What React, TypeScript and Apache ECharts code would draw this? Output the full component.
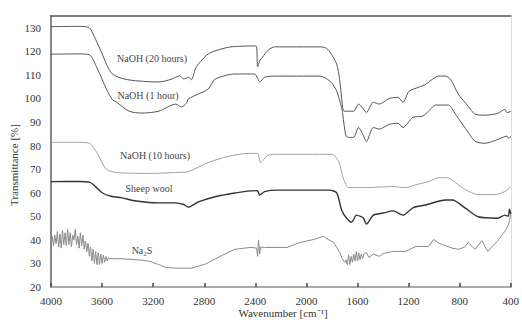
import React, { useEffect, useRef } from "react";
import * as echarts from "echarts";

const xTicks = [4000, 3600, 3200, 2800, 2400, 2000, 1600, 1200, 800, 400];
const yTicks = [20, 30, 40, 50, 60, 70, 80, 90, 100, 110, 120, 130];

const seriesNames = ["NaOH (20 hours)", "NaOH (1 hour)", "NaOH (10 hours)", "Sheep wool", "Na₂S"];

const naoh20Wn = [4000, 3780, 3700, 3650, 3600, 3566, 3520, 3430, 3311, 3156, 3055, 2995, 2960, 2924, 2900, 2870, 2846, 2769, 2680, 2591, 2405, 2390, 2382, 2366, 2343, 2300, 2250, 1894, 1850, 1817, 1763, 1740, 1724, 1712, 1700, 1631, 1592, 1560, 1530, 1476, 1430, 1352, 1283, 1244, 1197, 1120, 1066, 1012, 965, 911, 872, 810, 733, 679, 601, 501, 446, 430, 400];
const naoh20T = [130.5, 130.6, 130, 125, 119, 114.6, 110.4, 108.3, 107.4, 107, 108.2, 109.6, 108.3, 109, 108, 112.5, 114.6, 118.9, 120.8, 121.9, 122.3, 122, 113.4, 116, 117.6, 120.5, 121.9, 121.9, 121.5, 119.8, 114.6, 108, 100, 95, 94.6, 94.6, 97.6, 96, 94.1, 98.4, 97.6, 100, 100.5, 98.4, 103, 104.8, 106, 108.2, 109.5, 109.5, 108.2, 101.8, 96.7, 93.3, 92.9, 93.7, 95.4, 94, 94.5];

const naoh1Wn = [4000, 3780, 3698, 3640, 3566, 3520, 3489, 3388, 3288, 3156, 3024, 2978, 2940, 2924, 2846, 2769, 2715, 2560, 2405, 2382, 2366, 2328, 2250, 1894, 1817, 1770, 1747, 1720, 1708, 1690, 1670, 1631, 1592, 1560, 1530, 1476, 1430, 1352, 1283, 1244, 1166, 1089, 1043, 988, 888, 833, 733, 679, 601, 501, 431, 415, 400];
const naoh1T = [118.8, 118.9, 118.5, 113, 104, 99.5, 98.5, 94.6, 93.8, 94.6, 97.6, 96.4, 98, 99.8, 101.9, 104, 108.2, 110.4, 110.4, 108.5, 107, 109, 109.5, 109.5, 107.4, 104, 100.6, 95, 90, 84, 83.5, 83.5, 87.7, 85, 81.8, 87.7, 87, 89, 89.5, 87.7, 92, 92.5, 94.6, 97.2, 97.2, 93.3, 85.6, 81.8, 81, 82.6, 84, 83, 84];

const naoh10Wn = [4000, 3780, 3700, 3640, 3566, 3489, 3234, 3024, 2924, 2769, 2614, 2459, 2382, 2359, 2304, 2227, 1800, 1786, 1747, 1708, 1670, 1530, 1321, 1221, 1143, 1043, 965, 895, 833, 756, 655, 524, 446, 400];
const naoh10T = [81.4, 81.4, 81, 77, 69.9, 68.6, 68.2, 68.6, 69, 72.8, 75.4, 76.7, 76.7, 72.8, 75.8, 76.3, 76.3, 76, 73.3, 65.6, 62.2, 62.2, 62.6, 62.2, 63.4, 64.7, 66.4, 66.4, 64.3, 61.3, 59.2, 59.2, 60.5, 62.5];

const woolWn = [4000, 3780, 3698, 3650, 3600, 3530, 3443, 3334, 3156, 3024, 2960, 2924, 2846, 2715, 2560, 2405, 2382, 2366, 2328, 2227, 1817, 1763, 1724, 1685, 1646, 1608, 1570, 1554, 1530, 1476, 1399, 1321, 1244, 1166, 1066, 911, 857, 756, 655, 501, 446, 420, 410, 400];
const woolT = [64.7, 64.8, 64.5, 62.5, 60, 58.5, 57.8, 56.5, 55.7, 55.7, 55, 53.9, 56.1, 58.3, 59.9, 60.9, 60.8, 59, 60.5, 61.1, 61.1, 59.9, 52.6, 49.2, 47.5, 50.5, 49.8, 49.3, 46.7, 50.5, 51.4, 52.3, 50.5, 53.6, 54.8, 56.9, 56.9, 53.5, 49.8, 49.2, 50.5, 50, 53, 51];

const na2sWn = [4000, 3990, 3980, 3970, 3960, 3950, 3940, 3930, 3920, 3910, 3900, 3890, 3880, 3870, 3860, 3850, 3840, 3830, 3820, 3810, 3800, 3790, 3780, 3770, 3760, 3750, 3740, 3730, 3720, 3710, 3700, 3690, 3680, 3670, 3660, 3650, 3640, 3630, 3620, 3610, 3600, 3590, 3580, 3570, 3560, 3550, 3543, 3443, 3311, 3234, 3156, 3102, 3024, 2901, 2792, 2668, 2560, 2436, 2390, 2382, 2375, 2366, 2359, 2328, 2150, 2049, 1941, 1863, 1850, 1786, 1739, 1720, 1700, 1690, 1680, 1670, 1660, 1650, 1640, 1630, 1620, 1610, 1600, 1590, 1580, 1570, 1560, 1550, 1530, 1510, 1476, 1430, 1399, 1321, 1221, 1143, 1043, 1004, 960, 934, 860, 810, 760, 733, 700, 679, 625, 600, 578, 540, 501, 470, 440, 423, 410, 400];
const na2sT = [38.7, 41.5, 37.5, 42, 38.5, 43.5, 37, 42.5, 36.5, 44, 38, 43, 37.5, 44.5, 38, 43, 37, 42, 40, 44.5, 38, 41.5, 36.5, 43, 37.5, 42, 36, 39.5, 35, 38.5, 33, 37, 31, 36, 30, 35, 29.5, 34.5, 29.5, 34, 30, 33.5, 30.5, 33, 31, 32.5, 32, 32, 31.5, 31, 29.5, 28.3, 28, 28, 29.7, 33.2, 36, 36.8, 36.5, 33, 40, 34, 37, 36.8, 36.8, 38.9, 40.2, 41.6, 40.8, 38.9, 34.6, 32, 30.5, 31.5, 29.5, 33.5, 29.5, 33, 30.5, 34, 31, 35, 31, 34.5, 31.5, 34, 32, 34, 34.6, 32.5, 34, 33, 34.2, 35.1, 35.1, 37.2, 37.2, 40.2, 38.5, 38, 36.5, 36, 37, 38.9, 37, 36, 39.7, 37, 35.1, 37.5, 39.7, 42, 44, 45.9, 48, 51];

const zip = (a: number[], b: number[]) => a.map((v, i) => [v, b[i]]);

const serif = "'Liberation Serif', 'Times New Roman', serif";

export default function App() {
  const ref = useRef<HTMLDivElement>(null);
  useEffect(() => {
    if (!ref.current) return;
    const chart = echarts.init(ref.current, undefined, { renderer: "svg" });
    const lineDefs = [
      { name: seriesNames[0], data: zip(naoh20Wn, naoh20T), color: "#555555", width: 1, smooth: 0.25 },
      { name: seriesNames[1], data: zip(naoh1Wn, naoh1T), color: "#555555", width: 1, smooth: 0.25 },
      { name: seriesNames[2], data: zip(naoh10Wn, naoh10T), color: "#a0a0a0", width: 1, smooth: 0.25 },
      { name: seriesNames[3], data: zip(woolWn, woolT), color: "#333333", width: 1.4, smooth: 0.25 },
      { name: seriesNames[4], data: zip(na2sWn, na2sT), color: "#8a8a8a", width: 1, smooth: 0 },
    ];
    const labelPos = [
      [152, 58],
      [148, 95],
      [155, 155],
      [149, 188],
      [142, 250],
    ];
    chart.setOption({
      animation: false,
      backgroundColor: "#ffffff",
      textStyle: { fontFamily: serif },
      grid: { left: 51, right: 6, top: 16, bottom: 35 },
      xAxis: [
        {
          type: "value",
          min: 400,
          max: 4000,
          interval: 400,
          inverse: true,
          axisLine: { show: true, lineStyle: { color: "#aaaaaa", width: 2 } },
          axisTick: { show: true, inside: true, length: 4, lineStyle: { color: "#444", width: 1.5 } },
          axisLabel: {
            color: "#333",
            fontSize: 11,
            fontFamily: serif,
            margin: 8,
            formatter: (v: number) => (xTicks.includes(v) ? String(v) : ""),
          },
          splitLine: { show: false },
        },
        {
          type: "value",
          position: "top",
          min: 400,
          max: 4000,
          inverse: true,
          axisLine: { show: true, onZero: false, lineStyle: { color: "#555555", width: 1.5 } },
          axisTick: { show: false },
          axisLabel: { show: false },
          splitLine: { show: false },
        },
      ],
      yAxis: [
        {
          type: "value",
          min: 20,
          max: 135,
          interval: 10,
          axisLine: { show: true, lineStyle: { color: "#888888", width: 2 } },
          axisTick: { show: false },
          axisLabel: {
            color: "#333",
            fontSize: 11,
            fontFamily: serif,
            margin: 10,
            showMaxLabel: false,
            formatter: (v: number) => (yTicks.includes(v) ? String(v) : ""),
          },
          splitLine: { show: false },
        },
        {
          type: "value",
          position: "right",
          min: 20,
          max: 135,
          axisLine: { show: true, onZero: false, lineStyle: { color: "#dddddd", width: 1 } },
          axisTick: { show: false },
          axisLabel: { show: false },
          splitLine: { show: false },
        },
      ],
      series: lineDefs.map((d) => ({
        type: "line",
        name: d.name,
        data: d.data,
        xAxisIndex: 0,
        yAxisIndex: 0,
        showSymbol: false,
        symbol: "none",
        smooth: d.smooth,
        lineStyle: { color: d.color, width: d.width },
      })),
      graphic: [
        ...seriesNames.map((n, i) => ({
          type: "text",
          x: labelPos[i][0],
          y: labelPos[i][1],
          style: {
            text: n,
            fontSize: 10,
            fontFamily: serif,
            fill: "#444",
            align: "center",
            verticalAlign: "middle",
          },
        })),
        {
          type: "text",
          x: 283,
          y: 313,
          style: {
            text: "Wavenumber [cm⁻¹]",
            fontSize: 11,
            fontFamily: serif,
            fill: "#333",
            align: "center",
            verticalAlign: "middle",
          },
        },
        {
          type: "text",
          x: 14,
          y: 165,
          rotation: Math.PI / 2,
          style: {
            text: "Transmittance [%]",
            fontSize: 11,
            fontFamily: serif,
            fill: "#333",
            align: "center",
            verticalAlign: "middle",
          },
        },
      ],
    });
    return () => chart.dispose();
  }, []);
  return <div ref={ref} style={{ width: 522, height: 322, position: "absolute", left: 0, top: 0 }} />;
}
